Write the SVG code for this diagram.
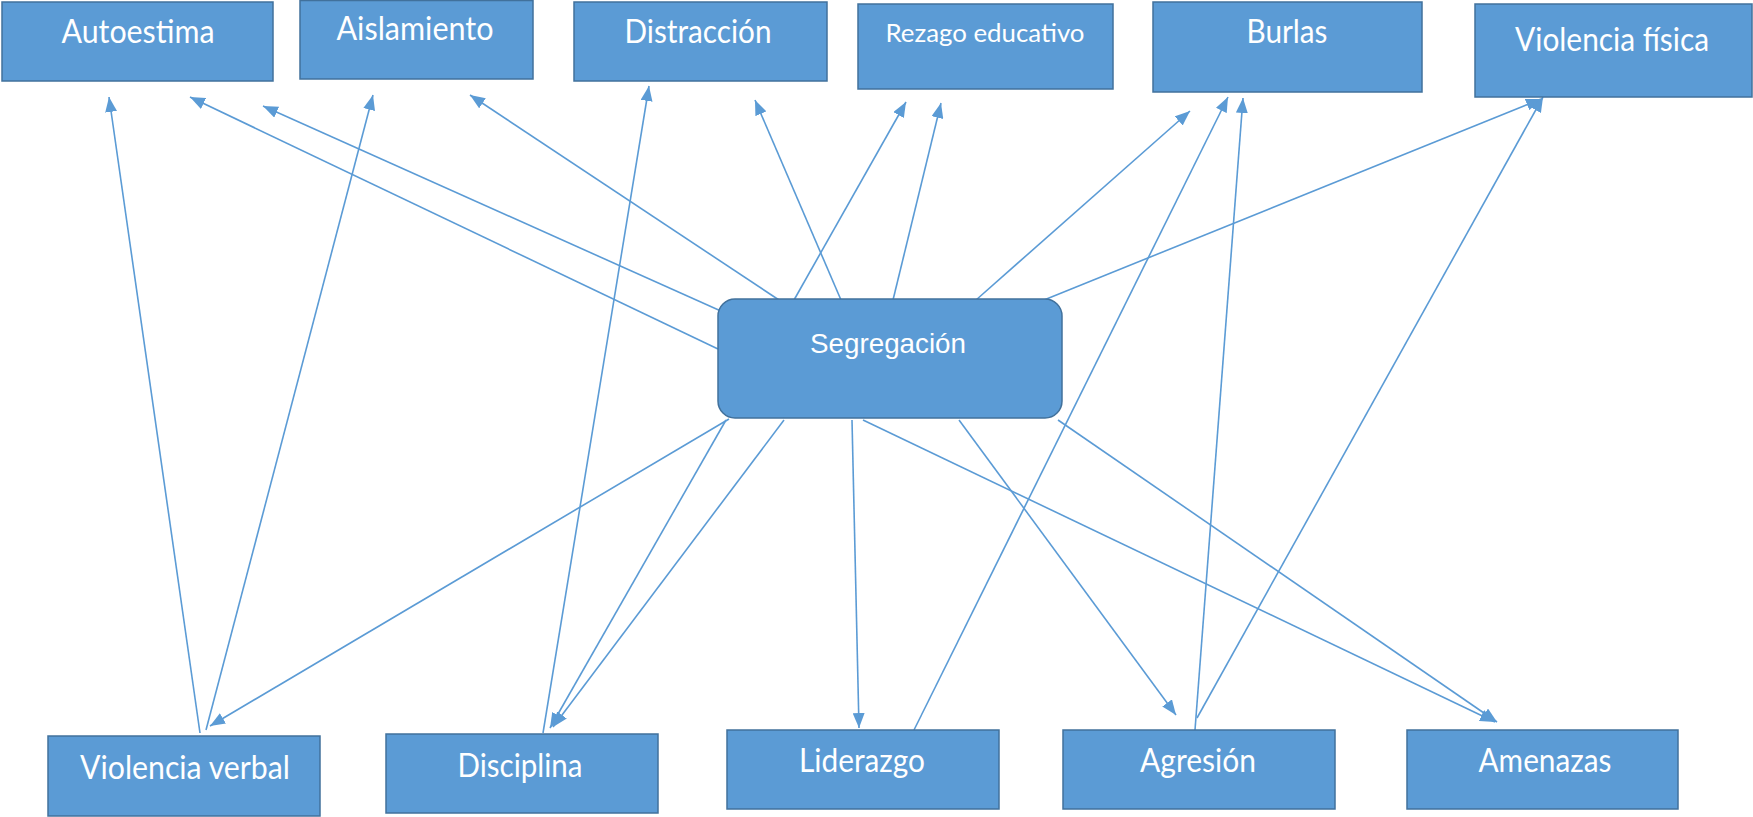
<svg xmlns="http://www.w3.org/2000/svg" width="1753" height="817" viewBox="0 0 1753 817">
<defs>
<style>
.box{fill:#5B9BD5;stroke:#41719C;stroke-width:1.5}
.t{fill:#ffffff;font-family:Lato,"Open Sans","Liberation Sans",sans-serif;font-size:33px;text-anchor:middle}
.ts{fill:#ffffff;font-family:"Liberation Sans",Arial,sans-serif;font-size:28px;text-anchor:middle}
.c line{stroke:#5B9BD5;stroke-width:1.6;fill:none;marker-end:url(#ah)}
</style>
<marker id="ah" markerUnits="userSpaceOnUse" markerWidth="15" markerHeight="12" refX="15" refY="6" orient="auto">
<path d="M0,0 L15,6 L0,12 z" fill="#5B9BD5"/>
</marker>
</defs>
<rect width="1753" height="817" fill="#ffffff"/>
<g class="c" id="connectors">
<line x1="718" y1="349" x2="190" y2="97"/>
<line x1="732" y1="316" x2="263" y2="106"/>
<line x1="779" y1="300" x2="470" y2="95"/>
<line x1="841" y1="300" x2="755" y2="100"/>
<line x1="794" y1="300" x2="906" y2="102"/>
<line x1="893" y1="300" x2="941" y2="103"/>
<line x1="976" y1="300" x2="1190" y2="111"/>
<line x1="1044" y1="300" x2="1541" y2="99"/>
<line x1="729" y1="419" x2="210" y2="726"/>
<line x1="726" y1="420" x2="550" y2="728"/>
<line x1="784" y1="420" x2="553" y2="727"/>
<line x1="852" y1="420" x2="859" y2="728"/>
<line x1="959" y1="420" x2="1176" y2="715"/>
<line x1="863" y1="420" x2="1495" y2="722"/>
<line x1="1058" y1="420" x2="1497" y2="722"/>
<line x1="200" y1="733" x2="109" y2="97"/>
<line x1="206" y1="730" x2="373" y2="95"/>
<line x1="543" y1="733" x2="649" y2="86"/>
<line x1="914" y1="730" x2="1228" y2="97"/>
<line x1="1195" y1="730" x2="1243" y2="98"/>
<line x1="1197" y1="718" x2="1543" y2="97"/>
</g>
<g id="autoestima"><rect class="box" x="2" y="2" width="271" height="79"/><text class="t" x="138" y="43" textLength="153" lengthAdjust="spacingAndGlyphs">Autoestima</text></g>
<g id="aislamiento"><rect class="box" x="300" y="0.5" width="233" height="78.5"/><text class="t" x="415" y="40" textLength="157" lengthAdjust="spacingAndGlyphs">Aislamiento</text></g>
<g id="distraccion"><rect class="box" x="574" y="2" width="253" height="79"/><text class="t" x="698" y="43" textLength="147" lengthAdjust="spacingAndGlyphs">Distracción</text></g>
<g id="rezago"><rect class="box" x="858" y="4" width="255" height="85"/><text class="t" x="985" y="42" style="font-size:25px" textLength="199" lengthAdjust="spacingAndGlyphs">Rezago educativo</text></g>
<g id="burlas"><rect class="box" x="1153" y="2" width="269" height="90"/><text class="t" x="1287" y="43" textLength="81" lengthAdjust="spacingAndGlyphs">Burlas</text></g>
<g id="violencia-fisica"><rect class="box" x="1475" y="4" width="277" height="93"/><text class="t" x="1612" y="51" textLength="194" lengthAdjust="spacingAndGlyphs">Violencia física</text></g>
<g id="segregacion"><rect class="box" x="718" y="299" width="344" height="119" rx="17" ry="17"/><text class="ts" x="888" y="353" textLength="156" lengthAdjust="spacingAndGlyphs">Segregación</text></g>
<g id="violencia-verbal"><rect class="box" x="48" y="736" width="272" height="80"/><text class="t" x="185" y="779" textLength="210" lengthAdjust="spacingAndGlyphs">Violencia verbal</text></g>
<g id="disciplina"><rect class="box" x="386" y="734" width="272" height="79"/><text class="t" x="520" y="777" textLength="125" lengthAdjust="spacingAndGlyphs">Disciplina</text></g>
<g id="liderazgo"><rect class="box" x="727" y="730" width="272" height="79"/><text class="t" x="862" y="772" textLength="126" lengthAdjust="spacingAndGlyphs">Liderazgo</text></g>
<g id="agresion"><rect class="box" x="1063" y="730" width="272" height="79"/><text class="t" x="1198" y="772" textLength="116" lengthAdjust="spacingAndGlyphs">Agresión</text></g>
<g id="amenazas"><rect class="box" x="1407" y="730" width="271" height="79"/><text class="t" x="1545" y="772" textLength="133" lengthAdjust="spacingAndGlyphs">Amenazas</text></g>
</svg>
